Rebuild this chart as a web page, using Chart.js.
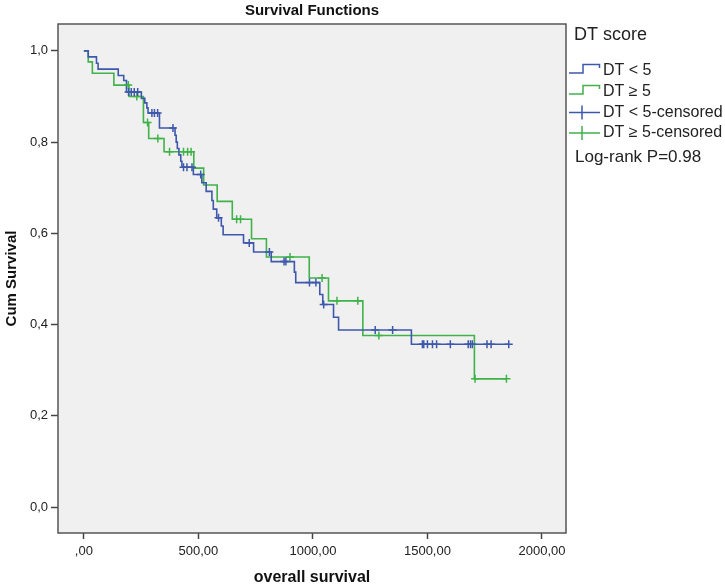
<!DOCTYPE html>
<html>
<head>
<meta charset="utf-8">
<script src="https://cdn.jsdelivr.net/npm/chart.js@4.4.1/dist/chart.umd.min.js"></script>
<style>
  html, body { margin: 0; padding: 0; background: #fff; }
  #wrap { width: 725px; height: 587px; }
</style>
</head>
<body>
<div id="wrap"><canvas id="km" width="725" height="587"></canvas></div>
<script>
// Kaplan-Meier steps (days, cumulative survival after the step)
const blueTimes = [0, 19, 55, 62, 150, 174, 186, 251, 266, 275, 280, 330, 398, 403, 408, 415, 423, 428, 478, 515, 534, 559, 565, 580, 600, 608, 697, 741, 818, 919, 925, 1030, 1043, 1090, 1112, 1430];
const blueSurv  = [1.0, 0.987, 0.973, 0.960, 0.946, 0.935, 0.910, 0.896, 0.886, 0.875, 0.864, 0.831, 0.815, 0.800, 0.786, 0.772, 0.758, 0.745, 0.729, 0.711, 0.692, 0.672, 0.653, 0.634, 0.616, 0.597, 0.579, 0.559, 0.538, 0.515, 0.492, 0.466, 0.444, 0.416, 0.388, 0.357];
const blueCensored = [195, 207, 220, 235, 297, 308, 322, 389, 435, 450, 472, 510, 588, 722, 810, 874, 882, 985, 1013, 1047, 1272, 1348, 1478, 1484, 1500, 1522, 1540, 1600, 1678, 1688, 1696, 1760, 1778, 1855];

const greenTimes = [0, 19, 37, 131, 197, 260, 283, 350, 480, 523, 582, 648, 732, 797, 984, 1068, 1218, 1705];
const greenSurv  = [1.0, 0.976, 0.951, 0.925, 0.900, 0.843, 0.808, 0.779, 0.743, 0.706, 0.670, 0.631, 0.588, 0.548, 0.502, 0.452, 0.376, 0.281];
const greenCensored = [194, 231, 278, 323, 374, 435, 453, 468, 667, 684, 900, 1040, 1105, 1196, 1288, 1708, 1845];

const xTicks = [0, 500, 1000, 1500, 2000];
const yTicks = [0, 0.2, 0.4, 0.6, 0.8, 1.0];

const legendLabels = ['DT < 5', 'DT \u2265 5', 'DT < 5-censored', 'DT \u2265 5-censored'];

const BLUE = '#3e58ac';
const GREEN = '#40b24a';
const FONT = '"Liberation Sans", Arial, sans-serif';

// survival level at time t (last step at or before t)
function survAt(times, surv, t) {
    let s = surv[0];
    for (let i = 0; i < times.length; i++) {
        if (times[i] <= t) s = surv[i];
    }
    return s;
}

function stepPoints(times, surv, censored) {
    const pts = times.map((t, i) => ({ x: t, y: surv[i] }));
    const last = censored[censored.length - 1];
    pts.push({ x: last, y: survAt(times, surv, last) });
    return pts;
}

function censorPoints(times, surv, censored) {
    return censored.map(t => ({ x: t, y: survAt(times, surv, t) }));
}

// plot background, frame, title and the right-hand legend
const decor = {
    id: 'decor',
    beforeDatasetsDraw(chart) {
        const { ctx, chartArea: a } = chart;
        ctx.save();
        ctx.fillStyle = '#f0f0f0';
        ctx.fillRect(a.left, a.top, a.right - a.left, a.bottom - a.top);
        ctx.restore();
    },
    afterDraw(chart) {
        const { ctx, chartArea: a } = chart;
        ctx.save();
        ctx.strokeStyle = '#555';
        ctx.lineWidth = 1.5;
        ctx.strokeRect(a.left, a.top, a.right - a.left, a.bottom - a.top);

        ctx.fillStyle = '#111';
        ctx.textBaseline = 'middle';
        ctx.textAlign = 'center';
        ctx.font = 'bold 15px ' + FONT;
        ctx.fillText('Survival Functions', (a.left + a.right) / 2, 11);

        ctx.textAlign = 'left';
        ctx.fillStyle = '#222';
        ctx.font = '18px ' + FONT;
        ctx.fillText('DT score', 574, 35);

        const rows = [71, 92, 112.5, 133];
        const cols = [BLUE, GREEN, BLUE, GREEN];
        ctx.lineWidth = 1.5;
        rows.forEach((c, i) => {
            ctx.strokeStyle = cols[i];
            ctx.beginPath();
            if (i < 2) {
                ctx.moveTo(569, c + 2);
                ctx.lineTo(583, c + 2);
                ctx.lineTo(583, c - 6.5);
                ctx.lineTo(599.5, c - 6.5);
                ctx.lineTo(599.5, c - 3);
            } else {
                ctx.moveTo(569, c);
                ctx.lineTo(600, c);
                ctx.moveTo(582, c - 7);
                ctx.lineTo(582, c + 7);
            }
            ctx.stroke();
            ctx.font = '16px ' + FONT;
            ctx.fillText(legendLabels[i], 603, c);
        });

        ctx.font = '17px ' + FONT;
        ctx.fillText('Log-rank P=0.98', 575, 157);
        ctx.restore();
    }
};

const ctx = document.getElementById('km').getContext('2d');

new Chart(ctx, {
    type: 'line',
    data: {
        datasets: [
            {
                label: legendLabels[0],
                data: stepPoints(blueTimes, blueSurv, blueCensored),
                borderColor: BLUE,
                borderWidth: 1.6,
                stepped: 'before',
                pointRadius: 0,
                fill: false,
                order: 2
            },
            {
                label: legendLabels[1],
                data: stepPoints(greenTimes, greenSurv, greenCensored),
                borderColor: GREEN,
                borderWidth: 1.6,
                stepped: 'before',
                pointRadius: 0,
                fill: false,
                order: 3
            },
            {
                label: legendLabels[2],
                data: censorPoints(blueTimes, blueSurv, blueCensored),
                showLine: false,
                pointStyle: 'cross',
                pointRadius: 4,
                borderColor: BLUE,
                borderWidth: 1.5,
                order: 1
            },
            {
                label: legendLabels[3],
                data: censorPoints(greenTimes, greenSurv, greenCensored),
                showLine: false,
                pointStyle: 'cross',
                pointRadius: 4,
                borderColor: GREEN,
                borderWidth: 1.5,
                order: 1
            }
        ]
    },
    options: {
        responsive: false,
        animation: false,
        devicePixelRatio: 1,
        layout: { padding: { top: 24, right: 159, bottom: 0, left: 0 } },
        plugins: {
            legend: { display: false },
            title: { display: false },
            tooltip: { enabled: false }
        },
        scales: {
            x: {
                type: 'linear',
                min: -113,
                max: 2105,
                afterBuildTicks: s => { s.ticks = xTicks.map(v => ({ value: v })); },
                afterFit: s => { s.height = 54; },
                grid: { display: true, drawOnChartArea: false, drawTicks: true, tickLength: 6, tickColor: '#444', tickWidth: 1.5 },
                border: { display: false },
                ticks: {
                    color: '#222',
                    font: { family: FONT, size: 13 },
                    padding: 5,
                    maxRotation: 0,
                    callback: v => v === 0 ? ',00' : v.toFixed(2).replace('.', ',')
                },
                title: {
                    display: true,
                    text: 'overall survival',
                    color: '#111',
                    font: { family: FONT, size: 16, weight: 'bold' },
                    padding: { top: 0, bottom: 0 }
                }
            },
            y: {
                min: -0.057,
                max: 1.059,
                afterBuildTicks: s => { s.ticks = yTicks.map(v => ({ value: v })); },
                afterFit: s => { s.width = 58; },
                grid: { display: true, drawOnChartArea: false, drawTicks: true, tickLength: 7, tickColor: '#444', tickWidth: 1.5 },
                border: { display: false },
                ticks: {
                    color: '#222',
                    font: { family: FONT, size: 13 },
                    padding: 3,
                    callback: v => v.toFixed(1).replace('.', ',')
                },
                title: {
                    display: true,
                    text: 'Cum Survival',
                    color: '#111',
                    font: { family: FONT, size: 15, weight: 'bold' },
                    padding: { top: 3, bottom: 0 }
                }
            }
        }
    },
    plugins: [decor]
});
</script>
</body>
</html>
